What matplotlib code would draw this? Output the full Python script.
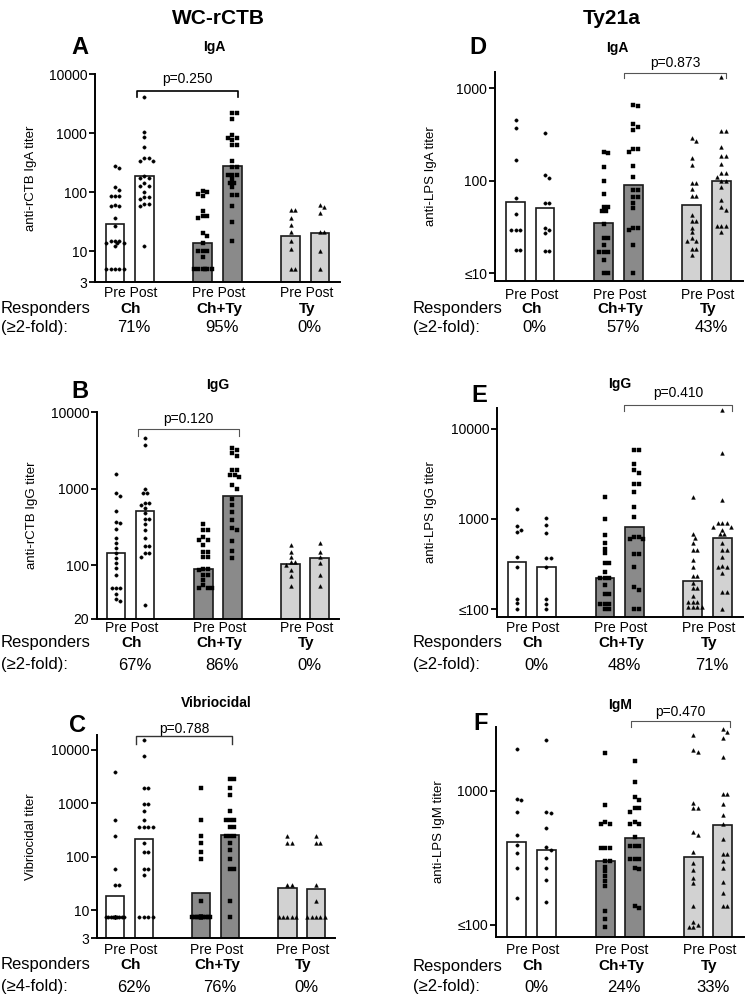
import matplotlib
matplotlib.use("Agg")
import matplotlib.pyplot as plt
from matplotlib.transforms import blended_transform_factory
import numpy as np

plt.rcParams["font.family"] = ["Liberation Sans", "DejaVu Sans"]

W, H = 746, 999

GROUPS = ["Ch", "Ch+Ty", "Ty"]
XPOS = [0, 1, 3, 4, 6, 7]
FILLS = ["#ffffff", "#ffffff", "#8a8a8a", "#8a8a8a", "#d2d2d2", "#d2d2d2"]
MARKERS = ["o", "o", "s", "s", "^", "^"]

# ---- Panel A: anti-rCTB IgA
A_CH_PRE = [260, 280, 120, 110, 86, 86, 86, 61, 57, 57, 36, 27, 15, 15, 14, 14, 15, 14, 12, 5, 5, 5, 5, 5]
A_CH_POST = [4000, 1060, 850, 570, 376, 376, 330, 330, 190, 172, 172, 141, 126, 126, 100, 84, 84, 75, 63, 63, 57, 12]
A_CHTY_PRE = [105, 100, 92, 85, 47, 39, 39, 36, 20, 18, 14, 10, 10, 10, 8, 5, 5, 5, 5, 5, 5]
A_CHTY_POST = [2190, 2190, 1700, 930, 815, 815, 770, 625, 625, 338, 270, 270, 196, 196, 196, 165, 141, 141, 120, 91, 91, 57, 31, 15]
A_TY_PRE = [49, 49, 36, 28, 21, 15, 11, 5, 5]
A_TY_POST = [60, 55, 45, 21, 21, 10, 5]
A_GMT = [29, 190, 14, 280, 18, 20]
A_RESP = ["71%", "95%", "0%"]

# ---- Panel B: anti-rCTB IgG
B_CH_PRE = [1545, 885, 815, 515, 372, 360, 294, 225, 194, 167, 144, 124, 107, 92, 75, 51, 51, 51, 43, 34, 36]
B_CH_POST = [4635, 3690, 1005, 885, 885, 645, 645, 620, 555, 475, 400, 400, 350, 290, 225, 180, 180, 145, 145, 130, 30]
B_CHTY_PRE = [345, 290, 290, 237, 214, 214, 184, 150, 150, 130, 130, 91, 91, 87, 75, 75, 64, 55, 50, 50, 50]
B_CHTY_POST = [3440, 3150, 2930, 2650, 1740, 1740, 1530, 1530, 1430, 1110, 1000, 740, 610, 500, 390, 305, 290, 205, 155, 125]
B_TY_PRE = [187, 150, 130, 112, 112, 102, 87, 72, 54]
B_TY_POST = [198, 150, 130, 107, 75, 54]
B_GMT = [144, 510, 89, 800, 105, 125]
B_RESP = ["67%", "86%", "0%"]

# ---- Panel C: vibriocidal
C_CH_PRE = [3840, 480, 240, 60, 30, 30] + [7.5] * 13
C_CH_POST = [15360, 7680, 1920, 1920, 960, 960, 720, 480, 360, 360, 360, 360, 180, 120, 120, 60, 60, 45, 7.5, 7.5, 7.5, 7.5]
C_CHTY_PRE = [1920, 480, 240, 180, 120, 90, 15] + [7.5] * 14
C_CHTY_POST = [2880, 2880, 1920, 1440, 720, 480, 480, 480, 360, 360, 240, 240, 240, 180, 135, 90, 60, 60, 15, 7.5]
C_TY_PRE = [240, 180, 180, 30, 30, 7.5, 7.5, 7.5, 7.5, 7.5]
C_TY_POST = [240, 180, 180, 30, 15, 7.5, 7.5, 7.5, 7.5, 7.5]
C_GMT = [18, 210, 21, 250, 26, 25]
C_RESP = ["62%", "76%", "0%"]

# ---- Panel D: anti-LPS IgA
D_CH_PRE = [455, 372, 168, 65, 44, 29, 29, 29, 17.8, 17.8]
D_CH_POST = [326, 114, 108, 57, 57, 31, 29, 27, 17.3, 17.3]
D_CHTY_PRE = [199, 204, 140, 100, 72, 52, 52, 47, 47, 34, 24, 24, 20, 16.9, 16.9, 16.9, 13.7, 10, 10]
D_CHTY_POST = [650, 665, 412, 385, 355, 221, 221, 204, 145, 109, 79, 79, 66, 66, 57, 50, 31, 31, 29, 20, 10]
D_TY_PRE = [290, 272, 175, 146, 94, 94, 82, 69, 69, 42, 37, 37, 31, 27.5, 24, 22, 22, 18, 18, 15.6]
D_TY_POST = [1315, 342, 348, 230, 187, 187, 152, 120, 120, 110, 100, 100, 85, 61, 52, 48, 32, 32, 32, 28]
D_GMT = [58.6, 50, 34.5, 89, 54, 100]
D_RESP = ["0%", "57%", "43%"]

# ---- Panel E: anti-LPS IgG
E_CH_PRE = [1295, 830, 760, 720, 380, 295, 130, 116, 101]
E_CH_POST = [1030, 855, 690, 365, 365, 295, 130, 115, 101]
E_CHTY_PRE = [1745, 990, 660, 535, 470, 415, 322, 322, 260, 222, 222, 222, 184, 148, 148, 115, 115, 115, 101, 101]
E_CHTY_POST = [5780, 5780, 4110, 3520, 3220, 2450, 2450, 1985, 1370, 1065, 630, 630, 595, 595, 410, 410, 295, 176, 163, 101, 101]
E_TY_PRE = [1745, 680, 610, 535, 450, 450, 350, 290, 230, 230, 194, 170, 170, 141, 120, 120, 120, 105, 105, 105, 105]
E_TY_POST = [16400, 5400, 1620, 900, 900, 900, 820, 820, 760, 680, 680, 535, 450, 450, 380, 300, 290, 290, 250, 155, 155, 101]
E_GMT = [330, 295, 222, 810, 205, 610]
E_RESP = ["0%", "48%", "71%"]

# ---- Panel F: anti-LPS IgM
F_CH_PRE = [2050, 850, 870, 700, 470, 395, 346, 265, 159]
F_CH_POST = [2380, 700, 680, 525, 380, 362, 314, 265, 217, 147]
F_CHTY_PRE = [1915, 782, 590, 565, 565, 372, 372, 372, 300, 300, 270, 250, 230, 211, 195, 126, 110, 97]
F_CHTY_POST = [1660, 1165, 900, 850, 740, 740, 700, 588, 570, 570, 455, 385, 385, 385, 308, 308, 308, 264, 260, 133, 137]
F_TY_PRE = [2630, 1950, 2020, 805, 740, 740, 495, 470, 352, 290, 258, 225, 205, 137, 105, 100, 96, 96]
F_TY_POST = [2900, 2740, 2490, 1800, 945, 945, 800, 660, 570, 435, 338, 338, 300, 265, 210, 173, 137, 137]
F_GMT = [418, 362, 300, 448, 318, 555]
F_RESP = ["0%", "24%", "33%"]


PANELS = [
    dict(pts=[A_CH_PRE, A_CH_POST, A_CHTY_PRE, A_CHTY_POST, A_TY_PRE, A_TY_POST], gmt=A_GMT, resp=A_RESP,
         rect=(95, 74, 340, 282), xlim=(-0.68, 7.68), ylim=(3, 10000),
         yticks=[3, 10, 100, 1000, 10000], ylabels=["3", "10", "100", "1000", "10000"],
         ylabel="anti-rCTB IgA titer", ylx=-0.237, letter=("A", 80, 47), title=("IgA", 214, 47),
         p=("p=0.250", 0.75, 4.2, 0.918, 0.889, 0.976, "#000000", 1.2),
         rows=(293, 309, 327), rx=1, fold="(\u22652-fold):"),
    dict(pts=[B_CH_PRE, B_CH_POST, B_CHTY_PRE, B_CHTY_POST, B_TY_PRE, B_TY_POST], gmt=B_GMT, resp=B_RESP,
         rect=(97, 412, 339, 619), xlim=(-0.65, 7.66), ylim=(20, 10000),
         yticks=[20, 100, 1000, 10000], ylabels=["20", "100", "1000", "10000"],
         ylabel="anti-rCTB IgG titer", ylx=-0.244, letter=("B", 80, 392), title=("IgG", 218, 385),
         p=("p=0.120", 0.76, 4.23, 0.918, 0.884, 0.966, "#555555", 0.8),
         rows=(628, 643, 665), rx=1, fold="(\u22652-fold):"),
    dict(pts=[C_CH_PRE, C_CH_POST, C_CHTY_PRE, C_CHTY_POST, C_TY_PRE, C_TY_POST], gmt=C_GMT, resp=C_RESP,
         rect=(97, 735, 335, 938), xlim=(-0.63, 7.66), ylim=(3, 19000),
         yticks=[3, 10, 100, 1000, 10000], ylabels=["3", "10", "100", "1000", "10000"],
         ylabel="Vibriocidal titer", ylx=-0.252, letter=("C", 78, 725), title=("Vibriocidal", 216, 703),
         p=("p=0.788", 0.73, 4.08, 0.995, 0.956, 1.03, "#333333", 1.0),
         rows=(950, 965, 987), rx=1, fold="(\u22654-fold):"),
    dict(pts=[D_CH_PRE, D_CH_POST, D_CHTY_PRE, D_CHTY_POST, D_TY_PRE, D_TY_POST], gmt=D_GMT, resp=D_RESP,
         rect=(495, 72, 743, 281), xlim=(-0.70, 7.74), ylim=(8.2, 1500),
         yticks=[10, 100, 1000], ylabels=["\u226410", "100", "1000"],
         ylabel="anti-LPS IgA titer", ylx=-0.234, letter=("D", 478, 48), title=("IgA", 617, 48),
         p=("p=0.873", 3.69, 7.16, 0.997, 0.970, 1.042, "#555555", 0.8),
         rows=(295, 309, 327), rx=413, fold="(\u22652-fold):"),
    dict(pts=[E_CH_PRE, E_CH_POST, E_CHTY_PRE, E_CHTY_POST, E_TY_PRE, E_TY_POST], gmt=E_GMT, resp=E_RESP,
         rect=(497, 408, 743, 617), xlim=(-0.68, 7.71), ylim=(81.5, 17100),
         yticks=[100, 1000, 10000], ylabels=["\u2264100", "1000", "10000"],
         ylabel="anti-LPS IgG titer", ylx=-0.244, letter=("E", 479, 396), title=("IgG", 620, 384),
         p=("p=0.410", 3.66, 7.33, 1.014, 0.986, 1.072, "#555555", 0.8),
         rows=(628, 643, 665), rx=413, fold="(\u22652-fold):"),
    dict(pts=[F_CH_PRE, F_CH_POST, F_CHTY_PRE, F_CHTY_POST, F_TY_PRE, F_TY_POST], gmt=F_GMT, resp=F_RESP,
         rect=(496, 727, 744, 937), xlim=(-0.71, 7.72), ylim=(81, 3000),
         yticks=[100, 1000], ylabels=["\u2264100", "1000"],
         ylabel="anti-LPS IgM titer", ylx=-0.206, letter=("F", 481, 723), title=("IgM", 620, 705),
         p=("p=0.470", 3.88, 7.25, 1.029, 1.0, 1.071, "#555555", 0.8),
         rows=(950, 966, 987), rx=413, fold="(\u22652-fold):"),
]


def fx(px):
    return px / W


def fy(py):
    return 1 - py / H


def swarm_x(ax, x0, vals, d=4.4, maxw=8.8):
    # simple beeswarm in pixel space so equal titers spread sideways
    vals = np.asarray(vals, dtype=float)
    ys = ax.transData.transform(np.column_stack([np.full(len(vals), x0), vals]))[:, 1]
    xc = ax.transData.transform((x0, vals[0]))[0]
    step = d / 2
    cands = [0.0]
    k = 1
    while k * step <= maxw + 1e-6:
        cands += [k * step, -k * step]
        k += 1
    placed = []
    offs = np.zeros(len(vals))
    for i in np.argsort(-vals, kind="stable"):
        best, bestd = 0.0, -1
        for c in cands:
            md = min([np.hypot(c - px, ys[i] - py) for px, py in placed], default=1e9)
            if md >= d:
                best = c
                break
            if md > bestd:
                bestd, best = md, c
        offs[i] = best
        placed.append((best, ys[i]))
    inv = ax.transData.inverted()
    return inv.transform(np.column_stack([xc + offs, ys]))[:, 0]


fig = plt.figure(figsize=(W / 100, H / 100), dpi=100)

fig.text(fx(218), fy(19), "WC-rCTB", ha="center", va="center", fontsize=15, fontweight="bold")
fig.text(fx(612), fy(19), "Ty21a", ha="center", va="center", fontsize=15, fontweight="bold")

for p in PANELS:
    x0, yt, x1, yb = p["rect"]
    ax = fig.add_axes([fx(x0), fy(yb), (x1 - x0) / W, (yb - yt) / H])
    ax.set_yscale("log")
    ax.set_xlim(*p["xlim"])
    ax.set_ylim(*p["ylim"])
    bottom = p["ylim"][0]

    gmt = np.asarray(p["gmt"], dtype=float)
    ax.bar(XPOS, gmt - bottom, bottom=bottom, width=0.64, color=FILLS,
           edgecolor="#1a1a1a", linewidth=1.2, zorder=2)

    for xp, vals, mk in zip(XPOS, p["pts"], MARKERS):
        xs = swarm_x(ax, xp, vals)
        ms = 2.7 if mk == "^" else 2.4
        ax.plot(xs, vals, linestyle="none", marker=mk, ms=ms, color="black",
                mec="black", mew=0.3, zorder=3, clip_on=False)

    ax.set_yticks(p["yticks"])
    ax.set_yticklabels(p["ylabels"])
    ax.yaxis.set_minor_locator(matplotlib.ticker.NullLocator())
    ax.set_xticks([])
    ax.tick_params(axis="y", direction="out", length=4, width=1.3, labelsize=10, pad=1.5)
    for s in ["top", "right"]:
        ax.spines[s].set_visible(False)
    for s in ["left", "bottom"]:
        ax.spines[s].set_linewidth(1.4)
    ax.set_ylabel(p["ylabel"], fontsize=9.5)
    ax.yaxis.set_label_coords(p["ylx"], 0.5)

    # panel letter and title
    lt, lx, ly = p["letter"]
    fig.text(fx(lx), fy(ly), lt, ha="center", va="center", fontsize=17, fontweight="bold")
    tt, tx, ty = p["title"]
    fig.text(fx(tx), fy(ty), tt, ha="center", va="center", fontsize=10, fontweight="bold")

    # p-value bracket
    ptxt, bx0, bx1, by, byt, ty_, pc, plw = p["p"]
    tr = blended_transform_factory(ax.transData, ax.transAxes)
    ax.plot([bx0, bx0, bx1, bx1], [byt, by, by, byt], color=pc, lw=plw,
            transform=tr, clip_on=False, zorder=4)
    ax.text((bx0 + bx1) / 2, ty_, ptxt, transform=tr, ha="center", va="center", fontsize=10)

    # text rows under the axis
    tf = blended_transform_factory(ax.transData, fig.transFigure)
    pp_y, grp_y, pct_y = p["rows"]
    for gi, g in enumerate(GROUPS):
        gx = (XPOS[2 * gi] + XPOS[2 * gi + 1]) / 2 + 0.05
        ax.text(gx, fy(pp_y), "Pre Post", transform=tf, ha="center", va="center", fontsize=10)
        ax.text(gx, fy(grp_y), g, transform=tf, ha="center", va="center", fontsize=11, fontweight="bold")
        ax.text(gx + 0.1, fy(pct_y), p["resp"][gi], transform=tf, ha="center", va="center", fontsize=12)
    fig.text(fx(p["rx"]), fy(grp_y), "Responders", ha="left", va="center", fontsize=12)
    fig.text(fx(p["rx"]), fy(pct_y), p["fold"], ha="left", va="center", fontsize=12)

fig.savefig("out.png", dpi=100)
